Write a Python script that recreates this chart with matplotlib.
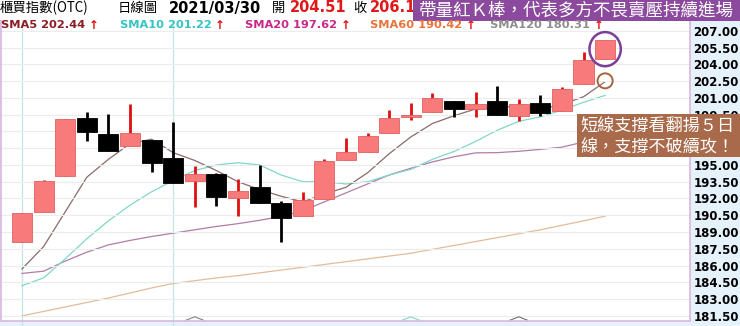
import matplotlib
matplotlib.use('Agg')
import matplotlib.pyplot as plt
from matplotlib.patches import Rectangle, Ellipse
import numpy as np

# ---------------- data ----------------
opens = [188.08, 190.79, 194.04, 199.22, 197.74, 196.72, 197.23, 195.65, 193.59, 194.16,
         192.02, 193.00, 191.62, 190.46, 191.93, 195.44, 196.18, 197.88, 199.26, 199.70,
         200.74, 199.97, 200.74, 199.40, 200.51, 199.82, 202.23, 204.51]
highs = [190.73, 193.62, 199.11, 199.76, 199.55, 200.42, 197.23, 198.81, 194.90, 194.25,
         193.72, 194.99, 191.77, 192.61, 195.50, 197.38, 197.83, 199.91, 200.56, 201.46,
         200.74, 201.49, 202.06, 200.87, 201.25, 201.99, 205.07, 206.20]
lows = [188.08, 190.79, 194.04, 197.14, 196.27, 196.72, 194.34, 193.36, 191.27, 191.33,
        190.43, 191.57, 188.14, 190.46, 191.93, 195.44, 196.18, 197.88, 199.02, 199.70,
        199.31, 199.31, 199.46, 198.93, 199.37, 199.82, 202.23, 204.51]
closes = [190.73, 193.56, 199.11, 197.92, 196.27, 197.88, 195.15, 193.36, 194.16, 192.16,
          192.67, 191.57, 190.28, 191.86, 195.38, 196.13, 197.61, 199.17, 199.46, 200.96,
          200.00, 200.45, 199.46, 200.42, 199.67, 201.79, 204.38, 206.20]

sma5 = [185.7, 187.7, 190.8, 193.9, 195.5, 196.9, 197.3, 196.1, 195.4, 194.5,
        193.5, 192.8, 192.2, 191.7, 192.4, 193.0, 194.3, 196.0, 197.5, 198.7,
        199.4, 200.0, 200.1, 200.3, 200.0, 200.4, 201.1, 202.44]
sma10 = [184.2, 184.9, 186.6, 188.4, 190.0, 191.4, 192.6, 193.6, 194.5, 195.0,
         195.2, 195.0, 194.1, 193.5, 193.5, 193.3, 193.5, 194.1, 194.6, 195.5,
         196.2, 197.1, 198.1, 198.9, 199.3, 199.9, 200.6, 201.22]
sma20 = [185.3, 185.5, 186.4, 187.2, 187.85, 188.25, 188.6, 188.9, 189.2, 189.5,
         189.75, 190.05, 190.4, 190.9, 191.7, 192.5, 193.3, 194.1, 194.7, 195.27,
         195.73, 196.08, 196.10, 196.22, 196.39, 196.59, 197.05, 197.62]
sma60 = [181.5, 181.9, 182.3, 182.7, 183.1, 183.55, 184.0, 184.4, 184.65, 184.9,
         185.1, 185.35, 185.6, 185.85, 186.1, 186.35, 186.6, 186.85, 187.1, 187.45,
         187.8, 188.15, 188.5, 188.85, 189.2, 189.6, 190.0, 190.42]

y_ticks = [181.5, 183.0, 184.5, 186.0, 187.5, 189.0, 190.5, 192.0, 193.5, 195.0,
           196.5, 198.0, 199.5, 201.0, 202.5, 204.0, 205.5, 207.0]
hidden_ticks = [196.5, 198.0]   # covered by the annotation box in the reference
month_marks = [0, 7]
signal_marks = [8, 18, 23]
signal_colors = ['#8c7c8c', '#86d8cc', '#707070']

legend_items = [('SMA5 202.44', '#8b1c24'), ('SMA10 201.22', '#33c4c4'),
                ('SMA20 197.62', '#c8288a'), ('SMA60 190.42', '#e8743a'),
                ('SMA120 180.31', '#8e8e8e')]

# ---------------- layout ----------------
W, H = 740, 326
fig = plt.figure(figsize=(W / 100, H / 100), dpi=100, facecolor='#e6f2fb')

def fx(x):
    return x / W

def fy(y):
    return 1 - y / H

CJK = ['Noto Sans CJK TC', 'DejaVu Sans']

fig.patches.append(Rectangle((0, fy(20)), 1, 20 / H, transform=fig.transFigure,
                             facecolor='white', edgecolor='none', zorder=0))

ax = fig.add_axes([fx(1), fy(320.5), (690 - 1) / W, (320.5 - 18) / H])
ax.set_facecolor('white')
ax.set_xlim(-0.972, 30.93)
ax.set_ylim(181.09, 208.14)

for s in ['left', 'right', 'bottom']:
    ax.spines[s].set_color('#d9b6df')
    ax.spines[s].set_linewidth(1.2)
ax.spines['top'].set_visible(False)

ax.set_yticks(y_ticks)
ax.set_yticklabels(['' if v in hidden_ticks else f'{v:.2f}' for v in y_ticks],
                   fontsize=8.5, fontweight='bold', color='black', family='DejaVu Sans')
ax.yaxis.tick_right()
ax.tick_params(axis='y', length=0, pad=2.5)
ax.set_xticks([])
ax.grid(axis='y', color='#ececec', lw=0.8, zorder=0)
for m in month_marks:
    ax.axvline(m, ymin=-0.02, ymax=1, color='#c2e4e4', lw=0.9, zorder=0, clip_on=False)

x = np.arange(len(closes))

# moving averages
ax.plot(x, sma60, color='#e2bc98', lw=0.9, zorder=1)
ax.plot(x, sma20, color='#b27ca8', lw=0.9, zorder=1)
ax.plot(x, sma10, color='#80d8c8', lw=0.9, zorder=1)
ax.plot(x, sma5, color='#8a6a6a', lw=0.9, zorder=1)

# candles
bw = 0.93
for i in range(len(closes)):
    o, h, l, c = opens[i], highs[i], lows[i], closes[i]
    up = c >= o
    wick = '#dd1111' if up else 'black'
    body = '#f87a7a' if up else 'black'
    edge = '#e06060' if up else 'black'
    ax.vlines(i, l, h, color=wick, lw=2.0, zorder=2)
    ax.add_patch(Rectangle((i - bw / 2, min(o, c)), bw, max(abs(c - o), 0.06),
                           facecolor=body, edgecolor=edge, lw=0.6, zorder=3))

# signal chevrons at bottom
for s, col in zip(signal_marks, signal_colors):
    ax.plot([s - 0.4, s, s + 0.4], [181.12, 181.42, 181.12], color=col, lw=0.8,
            zorder=2, clip_on=False)

# ellipse around last candle and circle on SMA5
last = len(closes) - 1
ax.add_patch(Ellipse((last, (opens[last] + closes[last]) / 2), 1.45, 3.05, fill=False,
                     edgecolor='#7b3f98', lw=1.8, zorder=4, clip_on=False))
ax.add_patch(Ellipse((last, sma5[last] + 0.08), 0.70, 1.34, fill=False,
                     edgecolor='#a5643f', lw=1.4, zorder=4, clip_on=False))

# ---------------- header ----------------
hy = fy(8)
fig.text(fx(0), hy, '櫃買指數(OTC)', family=CJK, fontsize=9.6, va='center', ha='left')
fig.text(fx(118), hy, '日線圖', family=CJK, fontsize=9.6, va='center', ha='left')
fig.text(fx(169), hy, '2021/03/30', fontsize=10.5, fontweight='bold', va='center', ha='left')
fig.text(fx(272), hy, '開', family=CJK, fontsize=9.6, va='center', ha='left')
fig.text(fx(290), hy, '204.51', fontsize=10.5, fontweight='bold', color='#e01818',
         va='center', ha='left')
fig.text(fx(353), hy, '收', family=CJK, fontsize=9.6, va='center', ha='left')
fig.text(fx(370), hy, '206.1', fontsize=10.5, fontweight='bold', color='#e01818',
         va='center', ha='left')

# SMA legend row
leg_x = [1, 120, 245, 370, 490]
ly = fy(25.5)
for (lab, col), lx in zip(legend_items, leg_x):
    t = fig.text(fx(lx), ly, lab, fontsize=8.2, fontweight='bold', color=col,
                 va='center', ha='left', zorder=6)
    ax.annotate('↑', xy=(1.0, 0.5), xycoords=t, xytext=(2.5, 0), textcoords='offset points',
                fontsize=8.6, fontweight='bold', color='#e01010', va='center', ha='left',
                annotation_clip=False, zorder=6)

# ---------------- annotation boxes ----------------
fig.patches.append(Rectangle((fx(413), fy(21)), (740 - 413) / W, 21 / H,
                             transform=fig.transFigure, facecolor='#8c4a9e',
                             edgecolor='none', zorder=5))
fig.text(fx(576.5), fy(10.5), '帶量紅Ｋ棒，代表多方不畏賣壓持續進場', family=CJK,
         fontsize=12.6, color='white', va='center', ha='center', zorder=6)

fig.patches.append(Rectangle((fx(577), fy(157)), (740 - 577) / W, 43 / H,
                             transform=fig.transFigure, facecolor='#a86a4b',
                             edgecolor='none', zorder=5))
fig.text(fx(580), fy(126.5), '短線支撐看翻揚５日', family=CJK, fontsize=12.3,
         color='white', va='center', ha='left', zorder=6)
fig.text(fx(580), fy(148), '線，支撐不破續攻！', family=CJK, fontsize=12.3,
         color='white', va='center', ha='left', zorder=6)

fig.savefig('out.png', dpi=100, facecolor=fig.get_facecolor())
